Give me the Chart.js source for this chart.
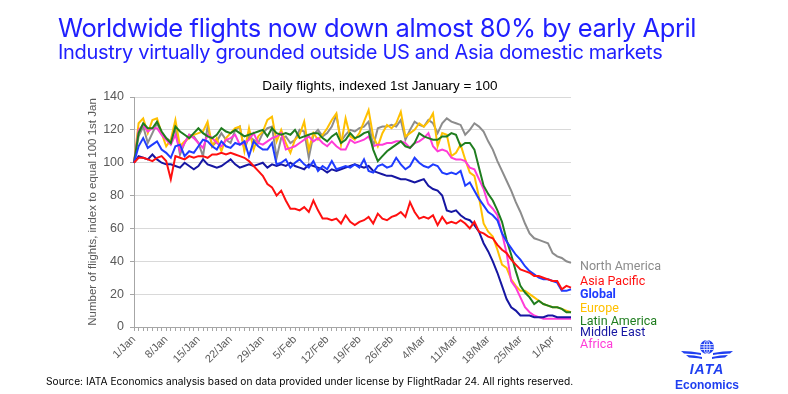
<!DOCTYPE html>
<html>
<head>
<meta charset="utf-8">
<title>Worldwide flights</title>
<script src="https://cdn.jsdelivr.net/npm/chart.js@4.4.1/dist/chart.umd.min.js"></script>
<style>
    html, body { margin: 0; padding: 0; background: #fff; }
    #page { position: relative; width: 788px; height: 394px; overflow: hidden; font-family: Inter, "Noto Sans", sans-serif; }
    #chart { position: absolute; left: 0; top: 0; }
    .head { position: absolute; left: 58px; color: #2020ff; white-space: nowrap; }
    #title { top: 12px; font-size: 25.5px; letter-spacing: -0.4px; }
    #subtitle { top: 40px; font-size: 20px; letter-spacing: -0.3px; }
    #source { position: absolute; left: 46px; top: 375px; font-size: 10.2px; color: #000; white-space: nowrap; }
    #logo { position: absolute; left: 670px; top: 339px; width: 74px; text-align: center; color: #1f3ff0; }
    #logo svg { display: block; margin: 0 auto; }
    #logo .iata { font-family: "Liberation Sans", Arial, sans-serif; font-weight: bold; font-style: italic; font-size: 14px; letter-spacing: 1px; line-height: 14px; margin-top: 1px; }
    #logo .eco { font-family: "Liberation Sans", Arial, sans-serif; font-weight: bold; font-size: 12px; line-height: 14px; margin-top: 2px; }
</style>
</head>
<body>
<div id="page">
    <canvas id="chart" width="788" height="394"></canvas>
    <div class="head" id="title">Worldwide flights now down almost 80% by early April</div>
    <div class="head" id="subtitle">Industry virtually grounded outside US and Asia domestic markets</div>
    <div id="source">Source: IATA Economics analysis based on data provided under license by FlightRadar 24. All rights reserved.</div>
    <div id="logo">
        <svg width="56" height="22" viewBox="0 0 56 22">
            <circle cx="28" cy="8" r="7" fill="#1f3ff0"/>
            <g fill="none" stroke="#fff" stroke-width="0.8">
                <ellipse cx="28" cy="8" rx="3" ry="7"/>
                <line x1="28" y1="1" x2="28" y2="15"/>
                <line x1="21.5" y1="5.5" x2="34.5" y2="5.5"/>
                <line x1="21" y1="8" x2="35" y2="8"/>
                <line x1="21.5" y1="10.5" x2="34.5" y2="10.5"/>
            </g>
            <g fill="#1f3ff0">
                <path d="M2 12 Q12 12 22 14 L22 16 Q12 14.5 5 14.5 Z"/>
                <path d="M7 16 Q15 16 23 18 L23 20 Q15 18.5 10 18.5 Z"/>
                <path d="M54 12 Q44 12 34 14 L34 16 Q44 14.5 51 14.5 Z"/>
                <path d="M49 16 Q41 16 33 18 L33 20 Q41 18.5 46 18.5 Z"/>
            </g>
        </svg>
        <div class="iata">IATA</div>
        <div class="eco">Economics</div>
    </div>
</div>

<script>
// --- Data (indexed 1st January = 100) ---
const months = [['Jan', 31], ['Feb', 29], ['Mar', 31], ['Apr', 5]];

const northAmerica = [
    100, 116, 122, 112, 118, 124, 118, 115, 113, 121,
    105, 112, 117, 116, 112, 104, 122, 110, 113, 118,
    114, 112, 120, 122, 108, 116, 114, 112, 118, 121,
    122, 103, 115, 116, 112, 114, 120, 119, 103, 117,
    120, 116, 118, 122, 129, 113, 117, 120, 119, 121,
    122, 125, 110, 121, 122, 122, 123, 122, 126, 114,
    120, 125, 123, 122, 126, 124, 118, 124, 127, 125,
    124, 123, 117, 120, 124, 122, 119, 113, 108, 101,
    95, 89, 83, 76, 70, 63, 57, 54, 53, 52,
    51, 45, 43, 42, 40, 39
];

const asiaPacific = [
    100, 103, 103, 102, 101, 103, 104, 101, 90, 104,
    103, 102, 104, 103, 104, 104, 103, 105, 105, 106,
    105, 106, 105, 104, 103, 101, 98, 95, 92, 87,
    85, 80, 83, 77, 72, 72, 71, 73, 70, 77,
    71, 66, 66, 65, 66, 63, 68, 64, 62, 64,
    65, 67, 63, 69, 66, 65, 67, 68, 70, 67,
    76, 70, 66, 67, 66, 68, 62, 67, 63, 64,
    63, 65, 63, 60, 64, 58, 57, 55, 54, 50,
    47, 45, 41, 38, 35, 34, 33, 31, 31, 30,
    29, 28, 28, 23, 25, 24
];

const globalFlights = [
    100, 110, 115, 109, 111, 113, 108, 106, 103, 110,
    111, 104, 107, 106, 110, 114, 113, 110, 108, 113,
    110, 109, 112, 111, 113, 104, 113, 110, 108, 108,
    112, 99, 100, 102, 97, 100, 102, 99, 97, 101,
    95, 98, 96, 101, 96, 97, 98, 97, 99, 97,
    102, 95, 94, 98, 99, 97, 98, 103, 99, 96,
    98, 103, 100, 98, 97, 99, 98, 94, 93, 94,
    93, 95, 86, 88, 83, 78, 74, 70, 68, 65,
    57, 52, 48, 44, 41, 37, 34, 32, 30, 29,
    29, 28, 27, 22, 22, 23
];

const europe = [
    100, 124, 127, 118, 126, 127, 118, 110, 114, 126,
    110, 113, 115, 117, 118, 119, 125, 110, 115, 107,
    115, 118, 121, 122, 107, 121, 108, 116, 119, 126,
    128, 113, 120, 112, 106, 114, 117, 125, 108, 118,
    114, 117, 121, 126, 130, 111, 127, 116, 114, 118,
    125, 132, 116, 110, 118, 123, 121, 124, 131, 116,
    118, 120, 124, 122, 125, 130, 110, 118, 117, 104,
    106, 111, 102, 94, 92, 79, 63, 58, 55, 47,
    38, 36, 29, 25, 22, 22, 20, 18, 16, 14,
    13, 12, 12, 11, 10, 9
];

const latinAmerica = [
    100, 118, 124, 121, 121, 125, 119, 115, 112, 122,
    119, 117, 115, 118, 121, 118, 116, 115, 117, 121,
    119, 118, 120, 118, 116, 117, 118, 119, 120, 116,
    121, 118, 117, 118, 117, 120, 115, 116, 117, 118,
    118, 115, 113, 116, 118, 112, 114, 118, 115, 116,
    118, 119, 108, 101, 104, 107, 109, 111, 113, 110,
    109, 112, 118, 116, 115, 114, 114, 116, 116, 118,
    117, 110, 112, 112, 108, 97, 86, 81, 77, 71,
    64, 53, 44, 34, 25, 21, 18, 14, 16, 14,
    13, 12, 12, 11, 9, 9
];

const middleEast = [
    100, 104, 103, 102, 105, 102, 100, 99, 99, 98,
    97, 100, 98, 96, 98, 102, 99, 98, 97, 98,
    100, 102, 99, 97, 98, 99, 98, 99, 100, 97,
    99, 98, 99, 98, 100, 98, 97, 96, 99, 98,
    97, 96, 94, 96, 95, 96, 97, 98, 99, 98,
    97, 98, 95, 94, 93, 92, 92, 91, 90, 90,
    89, 88, 89, 90, 86, 84, 83, 80, 71, 70,
    71, 68, 66, 65, 62, 58, 51, 46, 40, 33,
    25, 17, 12, 10, 7, 7, 7, 6, 6, 6,
    7, 7, 6, 6, 6, 6
];

const africa = [
    100, 120, 123, 119, 121, 121, 117, 114, 111, 117,
    107, 112, 117, 115, 112, 109, 117, 115, 112, 110,
    114, 115, 117, 111, 112, 114, 118, 112, 111, 113,
    115, 116, 118, 108, 109, 110, 112, 114, 116, 113,
    115, 112, 110, 113, 110, 108, 108, 114, 112, 113,
    114, 116, 110, 111, 111, 112, 112, 113, 113, 112,
    109, 112, 113, 115, 118, 110, 107, 108, 107, 103,
    102, 102, 101, 97, 96, 90, 84, 75, 72, 68,
    57, 45, 28, 24, 18, 12, 9, 7, 6, 5,
    5, 5, 5, 5, 5, 5
];

const yTicks = [0, 20, 40, 60, 80, 100, 120, 140];
const chartTitle = 'Daily flights, indexed 1st January = 100';
const yTitle = 'Number of flights, index to equal 100 1st Jan';

// day labels like "1/Jan"
const days = [];
months.forEach(([name, count]) => {
    for (let d = 1; d <= count; d++) days.push(d + '/' + name);
});

// --- Series styling (top of the legend list first) ---
const series = [
    { label: 'North America', data: northAmerica, color: '#8c8c8c', order: 6 },
    { label: 'Asia Pacific', data: asiaPacific, color: '#ff1010', order: 0 },
    { label: 'Global', data: globalFlights, color: '#1f3cff', order: 1, bold: true },
    { label: 'Europe', data: europe, color: '#ffc000', order: 5 },
    { label: 'Latin America', data: latinAmerica, color: '#1f7d1f', order: 3 },
    { label: 'Middle East', data: middleEast, color: '#1616a2', order: 2 },
    { label: 'Africa', data: africa, color: '#ff3cd8', order: 4 }
];

// label centre lines on the right of the plot
const labelRows = [267, 282, 295, 309, 322, 333, 345];

const sideText = {
    id: 'sideText',
    afterDraw(chart) {
        const { ctx, chartArea: area } = chart;
        ctx.save();

        // chart title over the plot
        ctx.font = '13.5px "Liberation Sans", Arial, sans-serif';
        ctx.fillStyle = '#000';
        ctx.textAlign = 'center';
        ctx.textBaseline = 'middle';
        ctx.fillText(chartTitle, 380, 86);

        // series names
        ctx.textAlign = 'left';
        series.forEach((s, i) => {
            ctx.font = (s.bold ? 'bold ' : '') + '12.5px Roboto, "Noto Sans", sans-serif';
            ctx.fillStyle = s.color;
            ctx.fillText(s.label, area.right + 9, labelRows[i]);
        });

        // vertical axis title
        ctx.translate(93, (area.top + area.bottom) / 2);
        ctx.rotate(-Math.PI / 2);
        ctx.font = '11.5px "Liberation Sans", Arial, sans-serif';
        ctx.fillStyle = '#595959';
        ctx.textAlign = 'center';
        ctx.fillText(yTitle, 0, 0);
        ctx.restore();
    }
};

Chart.defaults.font.family = '"Liberation Sans", Arial, sans-serif';
Chart.defaults.color = '#595959';

new Chart(document.getElementById('chart'), {
    type: 'line',
    data: {
        labels: days,
        datasets: series.map(s => ({
            label: s.label,
            data: s.data,
            borderColor: s.color,
            backgroundColor: s.color,
            borderWidth: 2,
            pointRadius: 0,
            tension: 0,
            order: s.order
        }))
    },
    options: {
        responsive: false,
        animation: false,
        events: [],
        layout: { padding: { left: 94, right: 217, top: 97, bottom: 22 } },
        plugins: {
            legend: { display: false },
            tooltip: { enabled: false }
        },
        scales: {
            x: {
                offset: false,
                afterFit: (scale) => { scale.height = 45; },
                grid: { drawOnChartArea: false, drawTicks: true, tickLength: 4, color: '#a6a6a6' },
                border: { color: '#a6a6a6' },
                ticks: {
                    autoSkip: false,
                    maxRotation: 45,
                    minRotation: 45,
                    padding: 2,
                    font: { size: 11 },
                    color: '#595959',
                    callback: function (value, index) {
                        return index % 7 === 0 ? this.getLabelForValue(value) : '';
                    }
                }
            },
            y: {
                min: 0,
                max: 140,
                afterFit: (scale) => { scale.width = 40; },
                afterBuildTicks: (scale) => { scale.ticks = yTicks.map(v => ({ value: v })); },
                grid: { color: '#d9d9d9', tickLength: 4, tickColor: '#a6a6a6' },
                border: { color: '#a6a6a6' },
                ticks: { padding: 6, font: { size: 12.5 }, color: '#595959' }
            }
        }
    },
    plugins: [sideText]
});
</script>
</body>
</html>
